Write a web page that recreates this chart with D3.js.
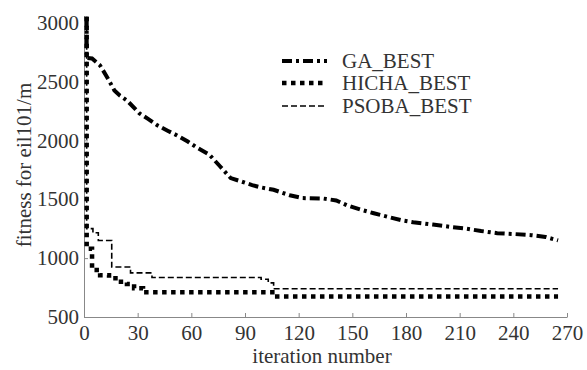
<html>
<script src='https://d3js.org/d3.v7.min.js'></script>
<style>
  body {margin:0; background:#fff;}
  svg text {fill:#333;}
  .axis path, .axis line {stroke:#888;}
</style>
<body onload='init()'>
<svg width=587 height=370></svg>
<script>
// GA_BEST (iteration, fitness)
var gaIter = [1.5,1.5,4.5,9,13,17,20,24,31,36,41,47,52,58,63,70,76,82,88,94,99,106,115,122,134,141,147,155,162,170,178,184,195,205,212,222,231,240,250,258,265];
var gaVal  = [3050,2700,2695,2636,2534,2424,2381,2339,2229,2180,2127,2080,2042,1990,1940,1880,1780,1680,1650,1620,1600,1580,1534,1510,1505,1490,1449,1410,1381,1350,1320,1305,1285,1265,1254,1230,1212,1205,1195,1180,1150];
// HICHA_BEST
var hiIter = [1.5,1.5,4.5,9,14,19,24,28,33,108,265];
var hiVal  = [3050,1080,900,855,830,800,780,745,710,675,675];
// PSOBA_BEST
var psIter = [1.5,1.5,5,8,15.5,26,38,99,103,106,265];
var psVal  = [3050,1250,1215,1150,925,875,835,820,790,740,740];

var xTicks = [0,30,60,90,120,150,180,210,240,270];
var yTicks = [500,1000,1500,2000,2500,3000];
var names = ['GA_BEST','HICHA_BEST','PSOBA_BEST'];

var serif = '"Liberation Serif", "Times New Roman", serif';

function init() {
  var svg = d3.select('svg');
  var x = d3.scaleLinear().domain([0,270]).range([84,567]);
  var y = d3.scaleLinear().domain([500,3060]).range([317,15.5]);

  var xAxis = d3.axisBottom(x).tickValues(xTicks).tickFormat(d3.format('d'))
    .tickSizeInner(-4).tickSizeOuter(0).tickPadding(8);
  var yAxis = d3.axisLeft(y).tickValues(yTicks).tickFormat(d3.format('d'))
    .tickSizeInner(-4).tickSizeOuter(0).tickPadding(5);

  svg.append('g').attr('class','axis').attr('transform','translate(0,317)').call(xAxis)
    .attr('font-family',serif).attr('font-size',21)
    .selectAll('text').attr('fill','#333');
  svg.append('g').attr('class','axis').attr('transform','translate(84,0)').call(yAxis)
    .attr('font-family',serif).attr('font-size',21)
    .selectAll('text').attr('fill','#333');

  svg.append('text').attr('x',322).attr('y',363).attr('text-anchor','middle')
    .attr('font-family',serif).attr('font-size',21).text('iteration number');
  svg.append('text').attr('transform','translate(31,165) rotate(-90)').attr('text-anchor','middle')
    .attr('font-family',serif).attr('font-size',21).text('fitness for eil101/m');

  var series = [
    {it:gaIter, v:gaVal, curve:d3.curveLinear, w:4, dash:'10,4,3,4'},
    {it:hiIter, v:hiVal, curve:d3.curveStepAfter, w:4.5, dash:'4.5,4.5'},
    {it:psIter, v:psVal, curve:d3.curveStepAfter, w:1.6, dash:'6,3'}
  ];

  series.forEach(function(s) {
    var pts = s.it.map(function(d,i){ return [d, s.v[i]]; });
    var line = d3.line().x(function(d){return x(d[0]);}).y(function(d){return y(d[1]);}).curve(s.curve);
    svg.append('path').datum(pts).attr('d',line)
      .attr('fill','none').attr('stroke','#000')
      .attr('stroke-width',s.w).attr('stroke-dasharray',s.dash);
  });

  // legend
  var ly = [61,83,106];
  series.forEach(function(s,i) {
    svg.append('line').attr('x1',282).attr('x2',327).attr('y1',ly[i]).attr('y2',ly[i])
      .attr('stroke','#000').attr('stroke-width',s.w).attr('stroke-dasharray',s.dash);
    svg.append('text').attr('x',342).attr('y',ly[i]+7)
      .attr('font-family',serif).attr('font-size',21).text(names[i]);
  });
}
</script>
</body>
</html>
